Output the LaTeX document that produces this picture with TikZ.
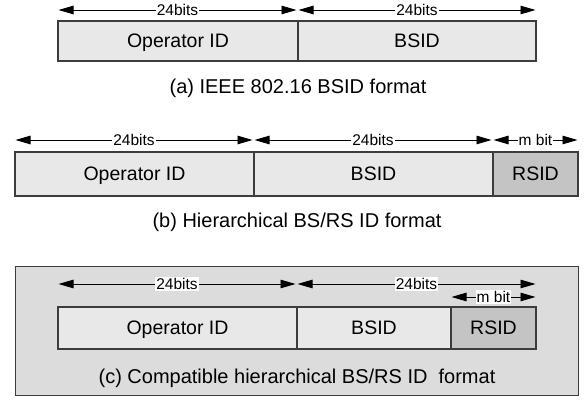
\documentclass[tikz,border=0pt]{standalone}
\usepackage{fontspec}
\setmainfont{Liberation Sans}
\usetikzlibrary{arrows.meta,calc}
\definecolor{fieldfill}{RGB}{232,232,232}
\definecolor{rsidfill}{RGB}{196,196,196}
\definecolor{panelfill}{RGB}{220,220,220}
\definecolor{edge}{RGB}{60,60,60}
\tikzset{
  field/.style={draw=edge, line width=1.2pt, inner sep=0pt, outer sep=0pt,
    font=\fontsize{19.5}{22}\selectfont, text height=14pt, text depth=0pt,
    anchor=north west},
  plain/.style={field, fill=fieldfill},
  relay/.style={field, fill=rsidfill},
  dim/.style={line width=0.9pt, {Triangle[length=15pt,width=8.5pt]}-{Triangle[length=15pt,width=8.5pt]}},
  dimlabel/.style={fill=white, inner sep=1pt, font=\fontsize{15.5}{17}\selectfont},
  caption/.style={font=\fontsize{20}{23}\selectfont, inner sep=0pt, text height=14.3pt, text depth=0pt},
}
\begin{document}
\begin{tikzpicture}[x=1pt, y=-1pt]
\useasboundingbox (0,0) rectangle (584,403);

% (a) IEEE 802.16 BSID format
\node[plain, minimum width=240pt, minimum height=40pt] (aop) at (58,21) {Operator ID};
\node[plain, minimum width=238pt, minimum height=40pt] (abs) at (298,21) {BSID};
\draw[dim] ([shift={(0.5pt,11pt)}]aop.north west) -- node[dimlabel]{24bits} ([shift={(-1.5pt,11pt)}]aop.north east);
\draw[dim] ([shift={(0.5pt,11pt)}]abs.north west) -- node[dimlabel]{24bits} ([shift={(-0.5pt,11pt)}]abs.north east);
\node[caption] (acap) at (298,86) {(a) IEEE 802.16 BSID format};

% (b) Hierarchical BS/RS ID format
\node[plain, minimum width=239pt, minimum height=44pt] (bop) at (15,152) {Operator ID};
\node[plain, minimum width=239pt, minimum height=44pt] (bbs) at (254,152) {BSID};
\node[relay, minimum width=85pt, minimum height=44pt] (brs) at (493,152) {RSID};
\draw[dim] ([shift={(0.5pt,12pt)}]bop.north west) -- node[dimlabel]{24bits} ([shift={(-1.5pt,12pt)}]bop.north east);
\draw[dim] ([shift={(0.5pt,12pt)}]bbs.north west) -- node[dimlabel]{24bits} ([shift={(-1.5pt,12pt)}]bbs.north east);
\draw[dim] ([shift={(0.5pt,12pt)}]brs.north west) -- node[dimlabel]{m bit} ([shift={(-0.5pt,12pt)}]brs.north east);
\node[caption] (bcap) at (297,220) {(b) Hierarchical BS/RS ID format};

% (c) Compatible hierarchical BS/RS ID format
\node[draw=edge, line width=1.3pt, fill=panelfill, inner sep=0pt, anchor=north west,
  minimum width=563pt, minimum height=129pt] (panel) at (15,266) {};
\node[plain, minimum width=239pt, minimum height=42pt] (cop) at (58,307) {Operator ID};
\node[plain, minimum width=154pt, minimum height=42pt] (cbs) at (297,307) {BSID};
\node[relay, minimum width=85pt, minimum height=42pt] (crs) at (451,307) {RSID};
\draw[dim] ([shift={(0.5pt,23pt)}]cop.north west) -- node[dimlabel]{24bits} ([shift={(-1.5pt,23pt)}]cop.north east);
\draw[dim] ([shift={(0.5pt,23pt)}]cbs.north west) -- node[dimlabel]{24bits} ([shift={(-0.5pt,23pt)}]crs.north east);
\draw[dim] ([shift={(0.5pt,10pt)}]crs.north west) -- node[dimlabel]{m bit} ([shift={(-0.5pt,10pt)}]crs.north east);
\node[caption] (ccap) at (297,376) {(c) Compatible hierarchical BS/RS ID\ \ format};
\end{tikzpicture}
\end{document}
